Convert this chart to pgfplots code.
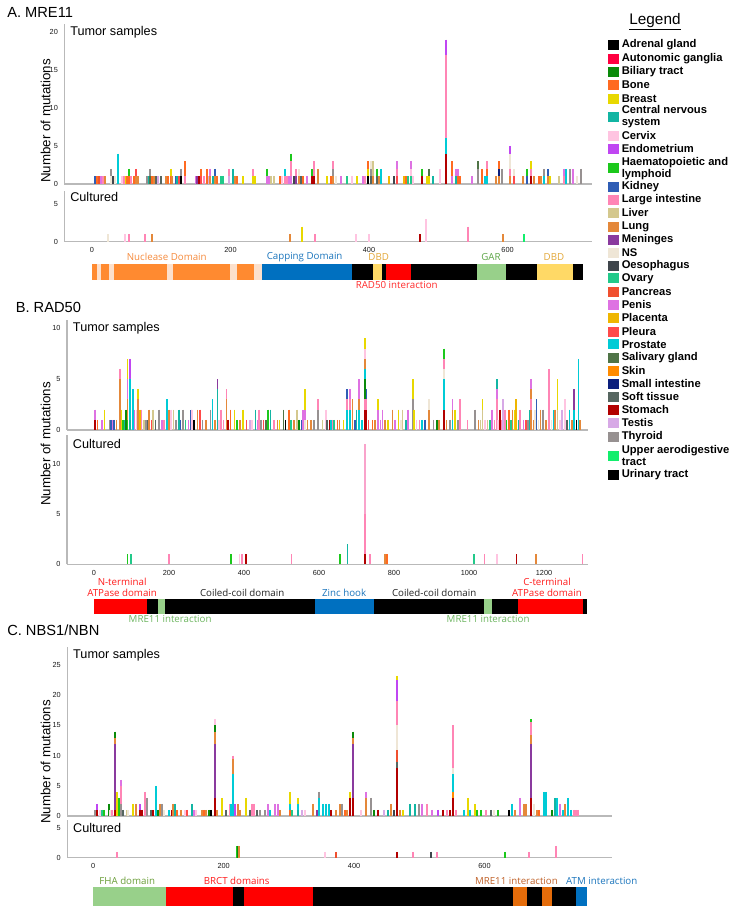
\documentclass[border=0pt]{standalone}
\usepackage{pgfplots}
\pgfplotsset{compat=1.18}
\usepackage{pgfplotstable}
\usepackage{fontspec}
\setmainfont{Liberation Sans}
\newfontfamily\domfont{Open Sans}

% tissue colours
\definecolor{cadr}{HTML}{000000}
\definecolor{caut}{HTML}{FF0040}
\definecolor{cbil}{HTML}{0A8A0A}
\definecolor{cbon}{HTML}{FF6A21}
\definecolor{cbre}{HTML}{E8D800}
\definecolor{ccns}{HTML}{12B5A3}
\definecolor{ccer}{HTML}{FFC4E1}
\definecolor{cenm}{HTML}{C046F2}
\definecolor{chae}{HTML}{1CC81C}
\definecolor{ckid}{HTML}{2F5DB5}
\definecolor{clin}{HTML}{FF85B5}
\definecolor{cliv}{HTML}{D4C88E}
\definecolor{clun}{HTML}{E4883A}
\definecolor{cmen}{HTML}{8A3A9E}
\definecolor{cnsp}{HTML}{EFE6D6}
\definecolor{coes}{HTML}{3F464C}
\definecolor{cova}{HTML}{22C98A}
\definecolor{cpan}{HTML}{F0502F}
\definecolor{cpen}{HTML}{DE72E2}
\definecolor{cpla}{HTML}{EFB600}
\definecolor{cple}{HTML}{FF4A4A}
\definecolor{cpro}{HTML}{00CBD6}
\definecolor{csal}{HTML}{4F7447}
\definecolor{cski}{HTML}{FF8B00}
\definecolor{csmi}{HTML}{0B1F7D}
\definecolor{csof}{HTML}{566660}
\definecolor{csto}{HTML}{B20000}
\definecolor{ctes}{HTML}{D7A9E6}
\definecolor{cthy}{HTML}{979191}
\definecolor{cuad}{HTML}{12EE6C}
\definecolor{curi}{HTML}{000000}
\definecolor{clpk}{HTML}{F9A3CB}
% domain colours
\definecolor{dor}{HTML}{FF8A30}
\definecolor{dpe}{HTML}{FCE0CC}
\definecolor{dbl}{HTML}{0070C0}
\definecolor{dye}{HTML}{FFD966}
\definecolor{dre}{HTML}{FF0000}
\definecolor{dgr}{HTML}{98D08A}
\definecolor{dco}{HTML}{E46C0A}

\def\PX#1{#1*0.75pt}
\def\PY#1{(911-#1)*0.75pt}

% one vertical segment per row: top t, length l (axis units)
\pgfdeclareplotmark{vseg}{%
  \pgfpathmoveto{\pgfpointorigin}%
  \pgfpathlineto{\pgfplotspointaxisdirectionxy{0}{-\seglen}}%
  \pgfusepathqstroke}

\pgfplotsset{
  base/.style={
    scale only axis, anchor=south west,
    axis x line=bottom, axis y line=left,
    axis line style={-, draw=gray!55, line width=1pt},
    major tick length=0pt, tick style={draw=none},
    clip=false, ymin=0, xtick=\empty,
    tick label style={font=\fontsize{5.5}{6.5}\selectfont, text=black!90},
    yticklabel style={xshift=-1.3pt},
    xticklabel style={yshift=-1pt},
    /pgf/number format/assume math mode=true,
    /pgf/number format/1000 sep={},
  },
  dombase/.style={scale only axis, anchor=south west, hide axis,
    ymin=0, ymax=1, clip=false},
  segs/.style={
    only marks, scatter, mark=vseg,
    point meta=explicit symbolic,
    scatter/classes={adr={cadr},aut={caut},bil={cbil},bon={cbon},bre={cbre},
      cns={ccns},cer={ccer},enm={cenm},hae={chae},kid={ckid},lin={clin},
      liv={cliv},lun={clun},men={cmen},nsp={cnsp},oes={coes},ova={cova},
      pan={cpan},pen={cpen},pla={cpla},ple={cple},pro={cpro},sal={csal},
      ski={cski},smi={csmi},sof={csof},sto={csto},tes={ctes},thy={cthy},
      uad={cuad},uri={curi},lpk={clpk}},
    mark options={line width=#1},
    visualization depends on={\thisrow{l}\as\seglen},
  },
  segs/.default=1.5pt,
}
\tikzset{
  ttl/.style={anchor=north west, inner sep=0pt, xshift=4.3pt, yshift=-1.2pt,
    font=\fontsize{9.5}{11}\selectfont},
  dl/.style={font=\domfont\fontsize{7.3}{8.5}\selectfont, inner sep=0pt},
}
\newcommand{\dom}[3]{\addplot[draw=#3, line width=0.2pt, fill=#3] coordinates {(#1,1) (#2,1)} \closedcycle;}

% ---------------- MRE11 ----------------
\pgfplotstableread[row sep=\\]{
x t l c\\
4 1 1 kid\\ 7 1 1 bon\\ 10 1 1 pan\\ 13 1 1 pen\\ 16 1 1 lin\\ 19 1 1 lun\\
27 1 1 nsp\\ 27 2 1 thy\\ 30 1 1 oes\\ 33 1 1 nsp\\ 37 4 4 pro\\ 44 1 1 cer\\
46 1 1 lin\\ 49 1 1 bre\\ 51 1 1 bon\\ 54 1 1 bon\\ 54 2 1 hae\\ 57 1 1 lin\\
60 1 1 bon\\ 64 1 1 lun\\ 64 2 1 ple\\ 66 1 1 lun\\ 80 1 1 thy\\ 82 1 1 cns\\
84 1 1 sal\\ 84 2 1 thy\\ 87 1 1 bon\\ 90 1 1 lun\\ 92 1 1 sof\\ 95 1 1 tes\\
99 1 1 sof\\ 107 1 1 lun\\ 110 1 1 bon\\ 114 1 1 bon\\ 114 2 1 bre\\ 116 1 1 lun\\
121 1 1 kid\\ 123 1 1 cns\\ 126 1 1 ple\\ 129 1 1 adr\\ 129 2 1 thy\\ 134 1 1 lin\\ 134 3 2 bon\\
150 1 1 pen\\ 152 1 1 men\\ 155 1 1 sto\\ 158 1 1 ple\\ 158 2 1 bon\\ 162 1 1 lin\\
166 2 2 bon\\ 169 1 1 tes\\ 171 1 1 lun\\ 171 2 1 pen\\ 174 1 1 cns\\ 177 1 1 lun\\ 177 2 1 kid\\
181 1 1 bon\\ 186 1 1 ova\\ 189 1 1 ova\\ 198 1 1 tes\\ 198 2 1 lin\\ 203 2 2 cns\\
206 1 1 lun\\ 209 1 1 bon\\ 218 1 1 bre\\ 232 1 1 bre\\ 232 2 1 lin\\ 236 1 1 bre\\
252 1 1 pen\\ 252 2 1 hae\\ 255 1 1 pen\\ 258 1 1 liv\\ 263 1 1 liv\\ 272 1 1 bon\\
275 1 1 cer\\ 278 1 1 lin\\ 278 2 1 pro\\ 282 1 1 lin\\ 285 1 1 pen\\
288 1 1 pen\\ 288 3 2 lin\\ 288 4 1 hae\\ 292 1 1 oes\\ 295 1 1 men\\ 295 2 1 lin\\
299 1 1 lun\\ 299 2 1 nsp\\ 302 1 1 sof\\ 305 1 1 bon\\ 310 1 1 pen\\
318 1 1 sto\\ 318 2 1 hae\\ 321 1 1 sto\\ 321 3 2 lin\\ 326 2 2 lun\\ 340 1 1 bre\\ 345 1 1 bon\\
348 1 1 lun\\ 348 2 1 thy\\ 348 3 1 lin\\ 353 1 1 nsp\\ 359 1 1 pen\\ 368 1 1 ova\\
375 1 1 cer\\ 382 1 1 bre\\ 391 1 1 pen\\ 394 1 1 lin\\
399 1 1 adr\\ 399 2 1 bre\\ 399 3 1 bon\\ 403 1 1 sof\\ 403 2 1 thy\\ 403 3 1 nsp\\
406 1 1 lun\\ 406 3 2 liv\\ 411 1 1 sof\\ 411 2 1 hae\\ 414 1 1 lun\\ 418 2 2 pro\\
429 1 1 pla\\ 436 1 1 oes\\ 440 1 1 ple\\ 440 2 1 lin\\ 440 3 1 pen\\
451 1 1 pla\\ 453 1 1 bon\\ 456 1 1 ova\\ 461 1 1 ova\\ 461 2 1 cer\\ 461 3 1 pen\\ 464 1 1 cer\\
477 1 1 sto\\ 477 2 1 hae\\ 483 1 1 bre\\ 486 1 1 bre\\ 486 2 1 sal\\ 492 1 1 cns\\ 503 2 2 cer\\
511 4 4 sto\\ 511 6 2 pro\\ 511 17 11 lin\\ 511 19 2 enm\\
520 1 1 pen\\ 520 3 2 bon\\ 525 1 1 cns\\ 525 2 1 pen\\ 528 1 1 bon\\ 528 2 1 pen\\ 532 1 1 bon\\
548 1 1 pen\\ 557 2 2 thy\\ 557 3 1 sal\\ 563 2 2 bon\\ 567 1 1 pro\\
571 1 1 pro\\ 571 2 1 bon\\ 571 3 1 lin\\ 583 1 1 lun\\
587 1 1 lun\\ 587 2 1 smi\\ 587 3 1 bon\\ 592 2 2 thy\\
604 1 1 lun\\ 604 2 1 lin\\ 604 4 2 nsp\\ 604 5 1 enm\\ 609 1 1 ple\\ 609 2 1 nsp\\
622 1 1 lun\\ 628 1 1 kid\\ 628 2 1 hae\\ 634 1 1 sto\\ 634 2 1 lin\\ 634 3 1 bre\\
638 1 1 lun\\ 645 1 1 bon\\ 648 1 1 lun\\ 652 1 1 pro\\ 652 2 1 thy\\
659 1 1 lun\\ 659 2 1 kid\\ 662 1 1 bre\\ 675 1 1 liv\\ 681 1 1 lin\\ 681 2 1 pen\\
684 2 2 pro\\ 690 2 2 thy\\ 695 2 2 pen\\ 700 1 1 nsp\\ 706 2 2 thy\\
}\MREtum
\pgfplotstableread[row sep=\\]{
x t l c\\
23 1 1 nsp\\ 48 1 1 cer\\ 53 1 1 lin\\ 77 1 1 lin\\ 86 1 1 lun\\ 286 1 1 lun\\
303 2 2 bre\\ 322 1 1 lin\\ 381 1 1 cer\\ 400 1 1 cer\\ 474 1 1 sto\\ 482 3 3 cer\\
543 2 2 lin\\ 594 1 1 lun\\ 624 1 1 uad\\
}\MREcul

% ---------------- RAD50 ----------------
\pgfplotstableread[row sep=\\]{
x t l c\\
3 1 1 sto\\ 3 2 1 pen\\ 9 1 1 bon\\ 22 1 1 pen\\ 28 2 2 bre\\ 43 1 1 thy\\ 46 1 1 kid\\ 50 1 1 pen\\ 53 1 1 kid\\ 60 1 1 lun\\
69 5 5 lun\\ 69 6 1 lin\\ 73 2 2 bre\\ 78 1 1 hae\\ 82 1 1 cns\\ 85 2 2 bil\\
89 1 1 hae\\ 89 3 2 lun\\ 89 5 2 pen\\ 89 7 2 bre\\ 96 1 1 cns\\ 96 5 4 pro\\ 96 7 2 enm\\
104 4 4 pro\\ 108 2 2 pen\\ 113 2 2 cer\\ 117 3 3 lun\\ 117 4 1 bre\\ 123 2 2 pla\\ 127 2 2 lin\\
133 1 1 liv\\ 139 1 1 thy\\ 144 1 1 sof\\ 147 2 2 lun\\ 153 1 1 ple\\ 158 2 2 liv\\ 164 1 1 sof\\ 173 2 2 thy\\
182 1 1 pen\\ 187 1 1 lin\\ 194 3 3 pro\\ 200 2 2 lun\\ 206 2 2 cer\\ 212 2 2 liv\\ 218 1 1 thy\\ 227 2 2 cns\\
231 1 1 kid\\ 238 2 2 thy\\ 244 1 1 ova\\ 252 1 1 pen\\ 258 2 2 kid\\ 262 2 2 cer\\ 267 1 1 adr\\ 276 2 2 lun\\
283 2 2 ple\\ 289 1 1 thy\\ 298 1 1 lun\\ 311 2 2 thy\\ 316 3 3 pro\\ 322 1 1 lun\\ 329 4 4 cns\\ 329 5 1 men\\
334 1 1 cer\\ 338 2 2 lin\\ 345 1 1 lin\\ 353 3 3 lun\\ 353 4 1 lin\\ 357 1 1 sto\\ 364 2 2 bon\\ 375 2 2 bre\\
382 1 1 hae\\ 389 1 1 lun\\ 397 2 2 bre\\ 407 1 1 ple\\ 416 1 1 tes\\ 422 1 1 cer\\ 431 2 2 cns\\ 436 1 1 pen\\
440 2 2 lin\\ 446 1 1 thy\\ 452 1 1 ple\\ 458 1 1 sal\\ 464 2 2 hae\\ 471 2 2 cns\\ 480 1 1 lin\\ 489 1 1 lun\\
495 1 1 bre\\ 505 2 2 sal\\ 511 1 1 adr\\ 520 2 2 bon\\ 526 1 1 ova\\ 533 1 1 lun\\ 542 2 2 liv\\ 547 1 1 bil\\
553 1 1 kid\\ 558 2 2 pen\\ 562 1 1 nsp\\ 562 2 1 pen\\ 562 4 2 bre\\ 569 1 1 lun\\ 578 1 1 lun\\ 587 1 1 thy\\
597 2 2 thy\\ 597 3 1 lin\\ 609 1 1 liv\\ 618 2 2 cer\\ 622 1 1 sof\\ 629 1 1 sto\\ 632 1 1 pro\\ 636 1 1 lin\\
640 1 1 ova\\ 649 1 1 bon\\ 655 1 1 lun\\ 665 1 1 bre\\
675 2 2 pro\\ 675 3 1 lin\\ 675 4 1 kid\\ 682 2 2 pro\\ 682 3 1 lin\\ 682 4 1 pen\\ 689 3 3 lun\\ 696 1 1 kid\\
700 2 2 cns\\ 707 2 2 pro\\ 707 3 1 lun\\ 707 5 2 pen\\ 714 1 1 pro\\
723 2 2 sto\\ 723 3 1 lin\\ 723 5 2 bil\\ 723 6 1 pro\\ 723 7 1 lun\\ 723 8 1 cer\\ 723 9 1 bre\\
727 2 2 sto\\ 727 3 1 lin\\ 727 4 1 kid\\ 732 1 1 ple\\ 743 1 1 bon\\ 749 1 1 lun\\ 758 2 2 pen\\ 758 3 1 bre\\
764 1 1 pen\\ 769 2 2 pen\\ 776 1 1 lun\\ 784 1 1 bre\\ 796 2 2 lun\\ 803 1 1 pen\\ 812 2 2 bre\\ 818 1 1 nsp\\
823 2 2 liv\\ 832 1 1 cns\\ 838 2 2 pen\\ 850 3 3 thy\\ 850 5 2 bre\\ 854 2 2 bre\\ 860 1 1 cer\\ 868 1 1 lin\\
875 1 1 pro\\ 883 1 1 kid\\ 894 2 2 lun\\ 894 3 1 nsp\\ 905 1 1 thy\\ 914 1 1 bil\\ 920 1 1 lun\\
934 2 2 sto\\ 934 5 3 pro\\ 934 6 1 nsp\\ 934 7 1 lin\\ 934 8 1 hae\\
940 1 1 lun\\ 949 1 1 thy\\ 956 1 1 pro\\ 956 2 1 lun\\ 956 3 1 pen\\ 963 2 2 bre\\ 971 1 1 thy\\ 976 3 3 lin\\
996 1 1 lin\\ 1016 2 2 thy\\ 1025 1 1 lun\\ 1031 1 1 liv\\ 1036 2 2 liv\\ 1036 3 1 bre\\ 1043 1 1 cer\\ 1049 1 1 liv\\
1056 1 1 ova\\ 1062 2 2 pen\\ 1068 1 1 lin\\ 1074 3 3 lin\\ 1074 4 1 pen\\ 1074 5 1 cns\\ 1078 1 1 cer\\
1083 2 2 sto\\ 1087 1 1 lin\\ 1091 3 3 tes\\ 1096 2 2 lin\\ 1100 1 1 hae\\ 1106 2 2 bon\\ 1112 1 1 ova\\
1116 2 2 lun\\ 1121 2 2 bre\\ 1125 3 3 pla\\ 1132 1 1 cns\\ 1136 2 2 lin\\ 1145 1 1 pen\\ 1152 1 1 ple\\
1158 1 1 thy\\ 1163 2 2 cns\\ 1166 2 2 lun\\ 1166 3 1 lin\\ 1166 4 1 lun\\ 1166 5 1 pen\\ 1172 1 1 lun\\
1176 2 2 nsp\\ 1180 3 3 kid\\ 1185 1 1 nsp\\ 1191 2 2 lun\\ 1198 2 2 thy\\ 1205 1 1 lun\\ 1213 6 6 lin\\
1220 1 1 nsp\\ 1226 2 2 pro\\ 1230 2 2 lun\\ 1236 2 2 liv\\ 1236 5 3 bre\\ 1242 1 1 cer\\ 1248 2 2 tes\\
1256 3 3 cer\\ 1262 1 1 sof\\ 1268 2 2 pro\\ 1274 1 1 lun\\ 1280 2 2 pro\\ 1280 4 2 men\\ 1287 1 1 adr\\
1292 7 7 pro\\ 1296 1 1 lun\\
}\RADtum
\pgfplotstableread[row sep=\\]{
x t l c\\
89 1 1 hae\\ 99 1 1 ova\\ 200 1 1 lin\\ 365 1 1 hae\\ 388 1 1 cer\\ 395 1 1 lin\\ 405 1 1 sto\\
527 1 1 lin\\ 656 1 1 hae\\ 676 2 2 cns\\ 723 1 1 sto\\ 723 5 4 lin\\ 723 12 7 lpk\\ 736 1 1 lin\\
776 1 1 lun\\ 781 1 1 bon\\ 1014 1 1 ova\\ 1041 1 1 lin\\ 1074 1 1 cer\\ 1127 1 1 sto\\
1179 1 1 lun\\ 1303 1 1 lin\\
}\RADcul

% ---------------- NBS1 ----------------
\pgfplotstableread[row sep=\\]{
x t l c\\
3 1 1 thy\\ 6 1 1 sto\\ 6 2 1 enm\\ 10 1 1 cer\\ 14 1 1 ova\\ 17 1 1 hae\\ 24 2 2 bil\\ 26 1 1 nsp\\ 29 1 1 lin\\
34 1 1 sto\\ 34 12 11 men\\ 34 13 1 lun\\ 34 14 1 bil\\ 37 4 4 bre\\ 40 3 3 hae\\
43 2 2 thy\\ 43 5 3 lin\\ 43 6 1 pen\\ 46 1 1 sof\\ 52 1 1 liv\\ 54 1 1 nsp\\ 61 2 2 bre\\ 65 2 2 lun\\
72 1 1 sto\\ 72 2 1 enm\\ 74 1 1 sto\\ 79 4 4 lin\\ 82 3 3 thy\\ 88 1 1 sof\\ 91 1 1 sto\\ 96 5 5 pro\\
99 1 1 bil\\ 103 2 2 lun\\ 106 2 2 thy\\ 109 1 1 nsp\\ 116 1 1 pro\\ 120 1 1 sto\\ 123 2 2 lun\\ 125 2 2 cns\\
129 1 1 bon\\ 135 1 1 lun\\ 141 1 1 cer\\ 144 1 1 ple\\ 152 2 2 cns\\ 155 1 1 pen\\ 158 1 1 cer\\
166 1 1 lun\\ 170 1 1 bon\\ 173 1 1 lun\\ 177 1 1 bil\\ 181 1 1 adr\\
186 3 3 sto\\ 186 12 9 men\\ 186 14 2 lun\\ 186 15 1 bil\\ 186 16 1 cer\\
190 1 1 lun\\ 198 3 3 bre\\ 203 1 1 sof\\ 209 2 2 lin\\ 212 2 2 pro\\
215 7 7 pro\\ 215 9.5 2.5 lun\\ 215 10 0.5 lin\\ 218 2 2 enm\\ 222 2 2 lun\\ 225 1 1 lun\\
234 3 3 bre\\ 240 1 1 sof\\ 243 2 2 lin\\ 247 2 2 lin\\ 251 1 1 sof\\ 256 1 1 thy\\ 263 1 1 thy\\
268 2 2 pen\\ 271 1 1 pro\\ 278 2 2 pen\\ 283 2 2 pen\\ 287 1 1 lun\\
301 1 1 bon\\ 301 2 1 pro\\ 301 4 2 bre\\ 305 1 1 ova\\ 314 1 1 cns\\ 314 2 1 pro\\ 314 3 1 bre\\
320 1 1 tes\\ 325 1 1 cer\\ 337 2 2 lun\\ 343 1 1 men\\ 346 3 3 pro\\ 346 4 1 thy\\
352 2 2 pro\\ 357 2 2 pro\\ 361 2 2 pro\\ 365 1 1 sto\\ 372 1 1 lun\\ 378 2 2 lun\\ 381 2 2 thy\\
386 1 1 bon\\ 389 1 1 lun\\ 394 3 3 sto\\ 394 4 1 bre\\
399 3 3 sto\\ 399 12 9 men\\ 399 13 1 lun\\ 399 14 1 bil\\
411 1 1 cer\\ 418 3 3 lun\\ 418 4 1 pen\\ 426 3 3 thy\\ 431 1 1 bil\\ 437 1 1 sto\\ 446 1 1 tes\\
452 1 1 cns\\ 456 2 2 lun\\ 461 1 1 oes\\
466 8 8 sto\\ 466 9 1 sof\\ 466 11 2 pan\\ 466 15 4 nsp\\ 466 19 4 lin\\ 466 22.5 3.5 enm\\ 466 23.2 0.7 bre\\
471 1 1 lun\\ 475 1 1 bre\\ 486 2 2 cns\\ 494 2 2 cns\\ 499 2 2 thy\\ 504 2 2 pen\\ 512 2 2 lin\\
520 1 1 pen\\ 528 1 1 enm\\ 536 1 1 sto\\ 543 1 1 lin\\ 547 1 1 sto\\
551 3 3 sto\\ 551 4 1 ski\\ 551 7 3 pro\\ 551 8 1 nsp\\ 551 15 7 lin\\
557 1 1 lin\\ 568 1 1 pro\\ 574 3 3 bre\\ 578 1 1 pro\\ 586 2 2 bre\\ 589 1 1 hae\\ 594 1 1 hae\\
602 1 1 lin\\ 610 1 1 sof\\ 615 1 1 nsp\\ 621 1 1 hae\\ 637 1 1 adr\\ 642 2 2 pro\\ 647 1 1 lun\\
654 3 3 pen\\ 660 2 2 lun\\ 664 2 2 lun\\
672 3 3 sto\\ 672 12 9 men\\ 672 13.5 1.5 lun\\ 672 15.5 2 lin\\ 672 16 0.5 hae\\
676 2 2 nsp\\ 680 1 1 lun\\ 684 1 1 bon\\ 691 4 4 pro\\ 695 4 4 pro\\ 703 1 1 bil\\ 708 3 3 cns\\
712 3 3 pro\\ 716 2 2 pen\\ 720 1 1 pro\\ 724 2 2 lun\\ 728 3 3 pro\\ 732 1 1 pro\\ 737 1 1 lin\\
741 1 1 lin\\ 744 1 1 lin\\
}\NBNtum
\pgfplotstableread[row sep=\\]{
x t l c\\
36 1 1 lin\\ 220 2 2 hae\\ 222 2 2 bil\\ 224 2 2 lun\\ 355 1 1 cer\\ 372 1 1 pan\\ 466 1 1 sto\\
491 1 1 lin\\ 518 1 1 oes\\ 527 1 1 lin\\ 632 1 1 hae\\ 668 1 1 lin\\ 710 2 2 lin\\
}\NBNcul

\begin{document}
\begin{tikzpicture}
\path[use as bounding box] (0,0) rectangle (552pt,683.25pt);

% ===== A. MRE11 =====
\begin{axis}[base, at={(48.225pt,545.25pt)}, width=395.8pt, height=119.7pt,
  xmin=-40, xmax=722, ymax=21, ytick={0,5,10,15,20}]
\addplot[segs] table[x=x, y=t, meta=c] {\MREtum};
\node[ttl] at (rel axis cs:0,1) {Tumor samples};
\end{axis}
\begin{axis}[base, at={(48.225pt,501.975pt)}, width=395.8pt, height=38.25pt,
  xmin=-40, xmax=722, ymax=6.8, ytick={0,5}, xtick={0,200,400,600}]
\addplot[segs] table[x=x, y=t, meta=c] {\MREcul};
\node[ttl] at (rel axis cs:0,1) {Cultured};
\end{axis}
\begin{axis}[dombase, at={(48.225pt,474pt)}, width=395.8pt, height=11.25pt,
  xmin=-40, xmax=722]
\dom{0}{8}{dor}\dom{8}{13}{dpe}\dom{13}{24.5}{dor}\dom{24.5}{32}{dpe}
\dom{32}{108}{dor}\dom{108}{117}{dpe}\dom{117}{199}{dor}\dom{199}{210}{dpe}
\dom{210}{234}{dor}\dom{234}{246}{dpe}\dom{246}{376}{dbl}\dom{376}{406}{black}
\dom{406}{419}{dye}\dom{419}{425}{black}\dom{425}{461}{dre}\dom{461}{556}{black}
\dom{556}{598}{dgr}\dom{598}{643}{black}\dom{643}{694}{dye}\dom{694}{708}{black}
\node[dl, text={rgb,255:red,245;green,138;blue,60}] at (axis cs:108,1.45) {Nuclease Domain};
\node[dl, text={rgb,255:red,27;green,117;blue,188}] at (axis cs:307,1.45) {Capping Domain};
\node[dl, text={rgb,255:red,227;green,168;blue,58}] at (axis cs:414,1.45) {DBD};
\node[dl, text={rgb,255:red,93;green,165;blue,71}] at (axis cs:576,1.45) {GAR};
\node[dl, text={rgb,255:red,227;green,168;blue,58}] at (axis cs:667,1.45) {DBD};
\node[dl, text={rgb,255:red,255;green,42;blue,42}] at (axis cs:440,-0.38) {RAD50 interaction};
\end{axis}

% ===== B. RAD50 =====
\begin{axis}[base, at={(50.25pt,360.75pt)}, width=390.94pt, height=82.35pt,
  xmin=-72, xmax=1318, ymax=10.8, ytick={0,5,10}]
\addplot[segs=1.3pt] table[x=x, y=t, meta=c] {\RADtum};
\node[ttl] at (rel axis cs:0,1) {Tumor samples};
\end{axis}
\begin{axis}[base, at={(50.25pt,260.025pt)}, width=390.94pt, height=96.75pt,
  xmin=-72, xmax=1318, ymax=12.9, ytick={0,5,10}, xtick={0,200,...,1200}]
\addplot[segs=1.3pt] table[x=x, y=t, meta=c] {\RADcul};
\node[ttl, yshift=-1.5pt] at (rel axis cs:0,1) {Cultured};
\end{axis}
\begin{axis}[dombase, at={(50.25pt,223.5pt)}, width=390.94pt, height=10.5pt,
  xmin=-72, xmax=1318]
\dom{0}{143}{dre}\dom{143}{171}{black}\dom{171}{191}{dgr}\dom{191}{591}{black}
\dom{591}{748}{dbl}\dom{748}{1040}{black}\dom{1040}{1061}{dgr}\dom{1061}{1132}{black}
\dom{1132}{1305}{dre}\dom{1305}{1312}{black}
\node[dl, text={rgb,255:red,255;green,26;blue,26}] at (axis cs:75,2.2) {N-terminal};
\node[dl, text={rgb,255:red,255;green,26;blue,26}] at (axis cs:75,1.45) {ATPase domain};
\node[dl, text={rgb,255:red,34;green,34;blue,34}] at (axis cs:395,1.45) {Coiled-coil domain};
\node[dl, text={rgb,255:red,27;green,117;blue,188}] at (axis cs:667,1.45) {Zinc hook};
\node[dl, text={rgb,255:red,34;green,34;blue,34}] at (axis cs:907,1.45) {Coiled-coil domain};
\node[dl, text={rgb,255:red,255;green,26;blue,26}] at (axis cs:1208,2.2) {C-terminal};
\node[dl, text={rgb,255:red,255;green,26;blue,26}] at (axis cs:1208,1.45) {ATPase domain};
\node[dl, text={rgb,255:red,109;green,181;blue,96}] at (axis cs:203,-0.45) {MRE11 interaction};
\node[dl, text={rgb,255:red,109;green,181;blue,96}] at (axis cs:1051,-0.45) {MRE11 interaction};
\end{axis}

% ===== C. NBS1/NBN =====
\begin{axis}[base, at={(50.4pt,71.25pt)}, width=408.3pt, height=126.75pt,
  xmin=-40, xmax=795, ymax=28, ytick={0,5,...,25}]
\addplot[segs] table[x=x, y=t, meta=c] {\NBNtum};
\node[ttl] at (rel axis cs:0,1) {Tumor samples};
\end{axis}
\begin{axis}[base, at={(50.4pt,39.975pt)}, width=408.3pt, height=28.3pt,
  xmin=-40, xmax=795, ymax=6.4, ytick={0,5}, xtick={0,200,400,600}]
\addplot[segs] table[x=x, y=t, meta=c] {\NBNcul};
\node[ttl, yshift=-1.2pt] at (rel axis cs:0,1) {Cultured};
\end{axis}
\begin{axis}[dombase, at={(50.4pt,4.5pt)}, width=408.3pt, height=13.5pt,
  xmin=-40, xmax=795]
\dom{0}{111}{dgr}\dom{111}{215}{dre}\dom{215}{231}{black}\dom{231}{337}{dre}
\dom{337}{644}{black}\dom{644}{666}{dco}\dom{666}{688}{black}\dom{688}{704}{dco}
\dom{704}{741}{black}\dom{741}{756}{dbl}
\node[dl, text={rgb,255:red,107;green,158;blue,58}] at (axis cs:52,1.35) {FHA domain};
\node[dl, text={rgb,255:red,255;green,26;blue,26}] at (axis cs:220,1.35) {BRCT domains};
\node[dl, text={rgb,255:red,192;green,98;blue,42}] at (axis cs:649,1.35) {MRE11 interaction};
\node[dl, anchor=west, text={rgb,255:red,27;green,117;blue,188}] at (axis cs:725,1.35) {ATM interaction};
\end{axis}

% ===== panel titles and y labels =====
\node[anchor=west, inner sep=0pt, font=\fontsize{11}{13}\selectfont] at ({\PX{7}},{\PY{12.7}}) {A. MRE11};
\node[anchor=west, inner sep=0pt, font=\fontsize{11}{13}\selectfont] at ({\PX{15.5}},{\PY{307.5}}) {B. RAD50};
\node[anchor=west, inner sep=0pt, font=\fontsize{11}{13}\selectfont] at ({\PX{7}},{\PY{630.5}}) {C. NBS1/NBN};
\foreach \py in {121,444,762}
  \node[rotate=90, inner sep=0pt, font=\fontsize{10}{12}\selectfont] at ({\PX{45.7}},{\PY{\py}}) {Number of mutations};

% ===== legend =====
\node[inner sep=0pt, font=\fontsize{11.5}{13}\selectfont] at ({\PX{655}},{\PY{22}}) {\underline{Legend}};
\foreach \py/\cc/\lab in {
  45/cadr/{Adrenal gland}, 59/caut/{Autonomic ganglia}, 72/cbil/{Biliary tract},
  85/cbon/{Bone}, 98.7/cbre/{Breast}, 117/ccns/{Central nervous\\system},
  136/ccer/{Cervix}, 149/cenm/{Endometrium}, 168.5/chae/{Haematopoietic and\\lymphoid},
  187/ckid/{Kidney}, 200/clin/{Large intestine}, 213/cliv/{Liver}, 227/clun/{Lung},
  240/cmen/{Meninges}, 253/cnsp/{NS}, 266/coes/{Oesophagus}, 278.5/cova/{Ovary},
  292/cpan/{Pancreas}, 305/cpen/{Penis}, 318/cpla/{Placenta}, 332/cple/{Pleura},
  344.5/cpro/{Prostate}, 358/csal/{Salivary gland}, 371/cski/{Skin},
  384/csmi/{Small intestine}, 397/csof/{Soft tissue}, 410/csto/{Stomach},
  423/ctes/{Testis}, 437/cthy/{Thyroid}, 456/cuad/{Upper aerodigestive\\tract},
  475/curi/{Urinary tract}}{
  \fill[\cc] ({\PX{608}},{\PY{(\py+5)}}) rectangle ({\PX{618.5}},{\PY{(\py-5)}});
  \node[anchor=west, inner sep=0pt, align=left, font=\fontsize{8.4}{9}\selectfont\bfseries]
    at ({\PX{621.5}},{\PY{\py}}) {\lab};
}
\end{tikzpicture}
\end{document}
